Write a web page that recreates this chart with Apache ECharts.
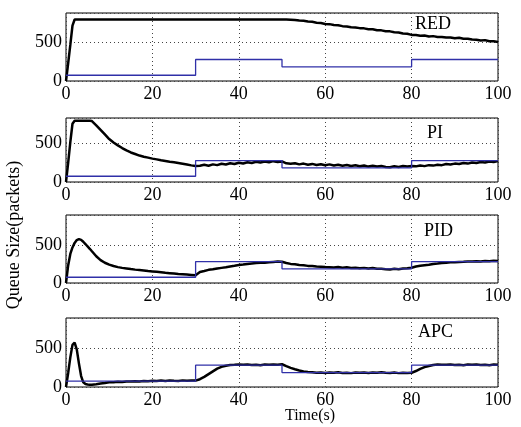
<!DOCTYPE html>
<html><head><meta charset="utf-8">
<script src="https://cdn.jsdelivr.net/npm/echarts@6/dist/echarts.min.js"></script>
<style>html,body{margin:0;padding:0;background:#fff}#c{width:521px;height:427px}</style>
</head><body><div id="c"></div>
<script>
// time samples (s)
var T = [0,0.5,1,1.5,2,2.5,3,3.5,4,4.5,5,5.5,6,7,8,9,10,11,12,13,14,15,16,17,18,19,20,21,22,23,24,25,26,27,28,29,30,31,32,33,34,35,36,37,38,39,40,41,42,43,44,45,46,47,48,49,50,51,52,53,54,55,56,57,58,59,60,61,62,63,64,65,66,67,68,69,70,71,72,73,74,75,76,77,78,79,80,81,82,83,84,85,86,87,88,89,90,91,92,93,94,95,96,97,98,99,100];

// queue size (packets)
var RED = [0,230,470,720,800,800,800,800,800,800,800,800,800,
 800,800,800,800,800,800,800,800,800,800,800,800,800,800,800,800,800,800,800,800,800,800,800,800,
 800,800,800,800,800,800,800,800,800,800,800,800,800,800,800,800,800,800,800,800,
 800,797,794,788,784,775,770,759,754,743,740,729,725,714,710,700,697,688,685,674,674,661,659,648,646,635,632,619,614,600,
 600,590,591,578,584,573,574,565,567,556,564,550,551,539,537,526,532,517,517,508];
var PI = [0,250,520,760,800,800,800,800,800,800,800,800,795,
 740,680,620,560,515,478,443,412,385,365,345,330,318,305,295,283,275,265,258,248,238,228,217,208,
 212,224,212,230,220,238,228,244,234,252,242,258,248,264,254,268,258,272,262,268,
 244,238,245,230,240,226,236,222,232,219,230,215,226,212,222,209,218,205,216,201,212,203,210,195,192,206,197,208,201,208,
 204,216,207,220,214,226,220,234,228,240,234,248,240,254,248,260,254,268,260,272];
var PID = [0,230,380,465,525,562,575,565,540,510,478,448,415,
 350,300,265,240,222,208,198,190,182,175,170,165,158,152,146,140,134,129,124,118,114,110,106,102,
 145,158,172,180,190,198,206,216,225,235,242,250,256,262,266,264,272,276,280,278,
 262,250,244,236,232,224,222,216,214,209,207,204,209,201,205,197,200,194,198,191,195,187,185,181,178,185,181,189,194,200,
 216,226,233,240,250,255,262,265,270,272,276,278,281,283,286,282,288,285,291,288];
var APC = [0,180,380,540,570,480,300,140,60,38,33,30,28,
 35,45,52,60,62,68,65,72,70,75,72,78,74,80,76,82,78,84,80,78,85,80,84,82,
 100,130,165,200,235,258,272,282,285,290,284,288,282,286,280,288,284,290,286,292,
 268,245,228,212,200,192,188,182,186,180,185,182,188,180,184,178,186,182,185,180,186,182,188,183,180,185,178,184,180,182,
 205,232,255,270,282,290,286,284,288,282,286,280,288,284,290,282,286,280,288,284];

// reference queue (packets)
var REF_T = [0,30,30,50,50,80,80,100];
var REF_V = [75,75,280,280,185,185,280,280];

var NAMES = ['RED','PI','PID','APC'];

var chart = echarts.init(document.getElementById('c'), null, {renderer:'canvas'});
var curves = [RED, PI, PID, APC];
var panelTop = [13, 118, 215, 318];
var panelBottom = [81, 182, 283, 387];
var panelMax = [885, 835, 890, 885];
var FONT = '"Liberation Serif", "Times New Roman", serif';

var grids = [], xAxes = [], yAxes = [], ser = [], graphics = [];
var labelPos = [[415,25],[427,134],[424,232],[418,333]];
for (var i = 0; i < 4; i++) {
  grids.push({left:66, right:23, top:panelTop[i], height:panelBottom[i]-panelTop[i], show:true, borderColor:'#000', borderWidth:1, backgroundColor:'#fff'});
  xAxes.push({type:'value', gridIndex:i, min:0, max:100, interval:20,
    axisLine:{show:false}, axisTick:{show:false},
    axisLabel:{color:'#000', fontFamily:FONT, fontSize:18, margin:4},
    splitLine:{show:true, lineStyle:{color:'#444', type:[1,3], width:1}}});
  yAxes.push({type:'value', gridIndex:i, min:0, max:panelMax[i], interval:500,
    axisLine:{show:false}, axisTick:{show:false},
    axisLabel:{color:'#000', fontFamily:FONT, fontSize:18, margin:4, showMaxLabel:false,
      formatter:function(v){return (v===0||v===500)?String(v):'';}},
    splitLine:{show:true, lineStyle:{color:'#444', type:[1,3], width:1}}});
  var d = curves[i];
  ser.push({type:'line', xAxisIndex:i, yAxisIndex:i, showSymbol:false, animation:false,
    data:T.map(function(t,k){return [t, d[k]];}),
    lineStyle:{color:'#000', width:2.5}, z:3});
  ser.push({type:'line', xAxisIndex:i, yAxisIndex:i, showSymbol:false, animation:false,
    data:REF_T.map(function(t,k){return [t, REF_V[k]];}),
    lineStyle:{color:'#3030a8', width:1.3}, z:4});
  graphics.push({type:'text', left:labelPos[i][0], top:labelPos[i][1]-10,
    style:{text:NAMES[i], font:'18px ' + FONT, fill:'#000'}, z:10});
}
graphics.push({type:'text', x:14, y:235, rotation:Math.PI/2,
  style:{text:'Queue Size(packets)', font:'18px ' + FONT, fill:'#000', textAlign:'center', textVerticalAlign:'middle'}});
graphics.push({type:'text', x:310, y:416,
  style:{text:'Time(s)', font:'16px ' + FONT, fill:'#000', textAlign:'center', textVerticalAlign:'middle'}});

chart.setOption({animation:false, grid:grids, xAxis:xAxes, yAxis:yAxes, series:ser, graphic:graphics});
</script></body></html>
